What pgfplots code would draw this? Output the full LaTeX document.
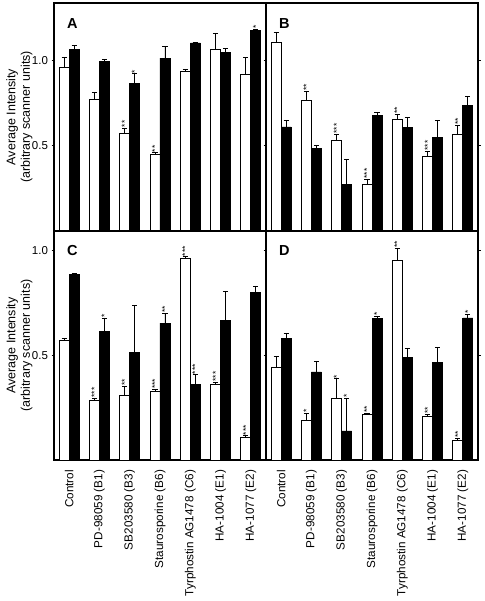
\documentclass[border=0pt]{standalone}
\usepackage{fontspec}
\setmainfont{Liberation Sans}
\usepackage{pgfplots}
\pgfplotsset{compat=1.18}
\usepackage{pgfplotstable}

\pgfplotstableread{
x w we b be
0 0.955 0.064 1.064 0.025
1 0.772 0.039 0.992 0.012
2 0.572 0.031 0.862 0.058
3 0.449 0.008 1.012 0.066
4 0.932 0.012 1.101 0.004
5 1.066 0.090 1.045 0.025
6 0.916 0.098 1.175 0.006
}\dataA
\pgfplotstableread{
x w we b be
0 1.107 0.058 0.609 0.039
1 0.767 0.052 0.481 0.021
2 0.533 0.033 0.272 0.146
3 0.272 0.031 0.679 0.014
4 0.656 0.025 0.607 0.058
5 0.436 0.031 0.547 0.099
6 0.564 0.053 0.737 0.049
}\dataB
\pgfplotstableread{
x w we b be
0 0.574 0.009 0.888 0.005
1 0.285 0.010 0.614 0.065
2 0.309 0.044 0.513 0.227
3 0.330 0.007 0.655 0.047
4 0.965 0.006 0.362 0.045
5 0.362 0.010 0.667 0.139
6 0.106 0.009 0.800 0.032
}\dataC
\pgfplotstableread{
x w we b be
0 0.444 0.051 0.583 0.024
1 0.188 0.036 0.421 0.052
2 0.295 0.093 0.139 0.154
3 0.216 0.005 0.675 0.013
4 0.952 0.059 0.490 0.042
5 0.208 0.010 0.466 0.071
6 0.093 0.010 0.679 0.017
}\dataD

% significance stars (x, error-bar top, label)
\pgfplotstableread{
x y s
2 0.603 **
3 0.457 **
}\starAw
\pgfplotstableread{
x y s
2 0.920 *
6 1.181 *
}\starAb
\pgfplotstableread{
x y s
1 0.819 **
2 0.566 ***
3 0.303 ***
4 0.681 **
5 0.467 ***
6 0.617 **
}\starBw
\pgfplotstableread{
x y s
1 0.295 ***
2 0.353 **
3 0.337 ***
4 0.971 ***
5 0.372 ***
6 0.115 ***
}\starCw
\pgfplotstableread{
x y s
1 0.679 *
3 0.702 **
4 0.407 ***
}\starCb
\pgfplotstableread{
x y s
1 0.224 *
2 0.388 *
3 0.221 **
4 1.011 **
5 0.218 **
6 0.103 **
}\starDw
\pgfplotstableread{
x y s
2 0.293 *
3 0.688 *
6 0.696 *
}\starDb

\tikzset{letter/.style={font=\bfseries\fontsize{14.5}{14.5}\selectfont, anchor=base west, inner sep=0pt}}

\pgfplotsset{
  panel/.style={
    scale only axis, width=212pt,
    xmin=-0.5, xmax=6.5, ymin=0,
    axis line style={line width=1.1pt},
    tick align=outside, major tick length=2.5pt,
    every tick/.style={line width=0.9pt, black},
    ytick={0.5,1.0},
    yticklabel style={font=\fontsize{11.5}{12}\selectfont,
      /pgf/number format/fixed, /pgf/number format/precision=1,
      /pgf/number format/fixed zerofill},
    /pgf/number format/assume math mode=true,
    xtick={0,...,6}, major x tick style={draw=none},
    xticklabels={},
    clip=false,
  },
  leftpanel/.style={panel, ytick pos=left,
    ylabel={Average Intensity\\(arbitrary scanner units)},
    ylabel style={align=center, font=\fontsize{12.5}{14.5}\selectfont,
      at={(axis description cs:-0.163,0.5)}, anchor=center}},
  rightpanel/.style={panel, ytick pos=both, yticklabels={}},
  bottompanel/.style={
    xticklabels={Control, PD-98059 (B1), SB203580 (B3), Staurosporine (B6),
      Tyrphostin AG1478 (C6), HA-1004 (E1), HA-1077 (E2)},
    xticklabel style={yshift=-4pt, rotate=90, anchor=east, font=\fontsize{11.7}{12}\selectfont},
  },
  wbar/.style={ybar, bar width=10pt, bar shift=0pt, fill=white, draw=black, line width=0.8pt,
    error bars/.cd, y dir=plus, y explicit,
    error bar style={line width=0.9pt, black},
    error mark options={rotate=90, mark size=2.6pt, line width=0.9pt, black}},
  bbar/.style={ybar, bar width=10pt, bar shift=0pt, fill=black, draw=black, line width=0.8pt,
    error bars/.cd, y dir=plus, y explicit,
    error bar style={line width=0.9pt, black},
    error mark options={rotate=90, mark size=2.6pt, line width=0.9pt, black}},
  stars/.style={ybar, bar width=10pt, bar shift=0pt, draw=none, fill=none,
    nodes near coords, point meta=explicit symbolic,
    nodes near coords style={rotate=90, anchor=west, inner sep=0.6pt,
      font=\fontsize{8.5}{8.5}\selectfont}},
}
\def\lo{\thisrow{x}-0.165}
\def\hi{\thisrow{x}+0.165}

\begin{document}
\begin{tikzpicture}
\path (0,0) rectangle (484pt,601pt);

% Panel A
\begin{axis}[leftpanel, height=228pt, ymax=1.335, at={(54pt,370pt)}, anchor=south west]
\addplot[wbar] table[x expr=\lo, y=w, y error=we] {\dataA};
\addplot[bbar] table[x expr=\hi, y=b, y error=be] {\dataA};
\addplot[stars] table[x expr=\lo, y=y, meta=s] {\starAw};
\addplot[stars] table[x expr=\hi, y=y, meta=s] {\starAb};
\node[letter] at (rel axis cs:0.061,0.89) {A};
\end{axis}

% Panel B
\begin{axis}[rightpanel, height=228pt, ymax=1.335, at={(266pt,370pt)}, anchor=south west]
\addplot[wbar] table[x expr=\lo, y=w, y error=we] {\dataB};
\addplot[bbar] table[x expr=\hi, y=b, y error=be] {\dataB};
\addplot[stars] table[x expr=\lo, y=y, meta=s] {\starBw};
\node[letter] at (rel axis cs:0.061,0.89) {B};
\end{axis}

% Panel C
\begin{axis}[leftpanel, bottompanel, height=229pt, ymax=1.095, at={(54pt,141pt)}, anchor=south west]
\addplot[wbar] table[x expr=\lo, y=w, y error=we] {\dataC};
\addplot[bbar] table[x expr=\hi, y=b, y error=be] {\dataC};
\addplot[stars] table[x expr=\lo, y=y, meta=s] {\starCw};
\addplot[stars] table[x expr=\hi, y=y, meta=s] {\starCb};
\node[letter] at (rel axis cs:0.061,0.891) {C};
\end{axis}

% Panel D
\begin{axis}[rightpanel, bottompanel, height=229pt, ymax=1.095, at={(266pt,141pt)}, anchor=south west]
\addplot[wbar] table[x expr=\lo, y=w, y error=we] {\dataD};
\addplot[bbar] table[x expr=\hi, y=b, y error=be] {\dataD};
\addplot[stars] table[x expr=\lo, y=y, meta=s] {\starDw};
\addplot[stars] table[x expr=\hi, y=y, meta=s] {\starDb};
\node[letter] at (rel axis cs:0.061,0.891) {D};
\end{axis}
\end{tikzpicture}
\end{document}
